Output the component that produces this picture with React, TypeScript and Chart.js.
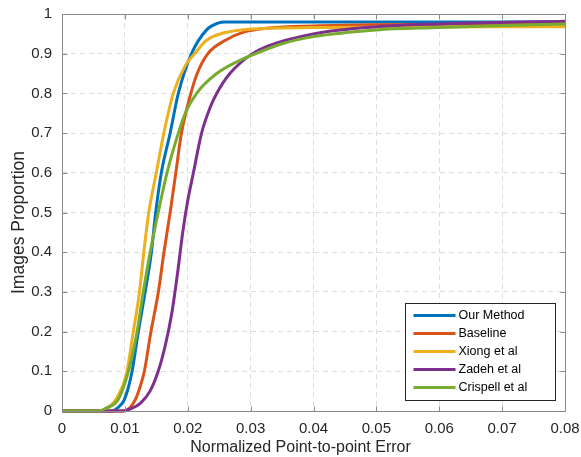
import React, { useEffect, useRef } from "react";
import { Chart, registerables } from "chart.js";

Chart.register(...registerables);

// ---- Tick labels ----
const xTickValues = [0, 0.01, 0.02, 0.03, 0.04, 0.05, 0.06, 0.07, 0.08];
const xTickLabels = ["0", "0.01", "0.02", "0.03", "0.04", "0.05", "0.06", "0.07", "0.08"];
const yTickValues = [0, 0.1, 0.2, 0.3, 0.4, 0.5, 0.6, 0.7, 0.8, 0.9, 1];
const yTickLabels = ["0", "0.1", "0.2", "0.3", "0.4", "0.5", "0.6", "0.7", "0.8", "0.9", "1"];
const xTitle = "Normalized Point-to-point Error";
const yTitle = "Images Proportion";

// ---- Series (x = normalized error, y = proportion) ----
const seriesNames = ["Our Method", "Baseline", "Xiong et al", "Zadeh et al", "Crispell et al"];
const seriesColors = ["#0072BD", "#D95319", "#EDB120", "#7E2F8E", "#77AC30"];

const ourMethodX = [0, 0.0078, 0.009, 0.0099, 0.0111, 0.0121, 0.0132, 0.0142, 0.0149, 0.0158, 0.0172, 0.0185, 0.0206, 0.023, 0.0248, 0.0259, 0.08];
const ourMethodY = [0, 0, 0.01, 0.028, 0.096, 0.196, 0.297, 0.398, 0.5, 0.6, 0.7, 0.8, 0.9, 0.96, 0.977, 0.98, 0.98];

const baselineX = [0, 0.0098, 0.0108, 0.0117, 0.0124, 0.0131, 0.0141, 0.0153, 0.0162, 0.0172, 0.0181, 0.019, 0.0205, 0.0215, 0.0232, 0.026, 0.029, 0.033, 0.04, 0.05, 0.08];
const baselineY = [0, 0, 0.008, 0.03, 0.06, 0.1, 0.196, 0.297, 0.398, 0.5, 0.6, 0.7, 0.8, 0.85, 0.9, 0.934, 0.955, 0.965, 0.97, 0.973, 0.975];

const xiongX = [0, 0.0062, 0.0075, 0.0088, 0.0103, 0.0113, 0.0123, 0.013, 0.0138, 0.015, 0.0162, 0.0177, 0.0196, 0.0211, 0.023, 0.0256, 0.03, 0.04, 0.05, 0.08];
const xiongY = [0, 0, 0.01, 0.035, 0.096, 0.196, 0.297, 0.398, 0.5, 0.6, 0.7, 0.8, 0.87, 0.9, 0.934, 0.952, 0.962, 0.966, 0.967, 0.968];

const zadehX = [0, 0.0095, 0.011, 0.0125, 0.014, 0.0153, 0.0165, 0.0175, 0.0184, 0.0192, 0.02, 0.0209, 0.0222, 0.0237, 0.0246, 0.0267, 0.03, 0.0325, 0.04, 0.05, 0.06, 0.08];
const zadehY = [0, 0, 0.006, 0.02, 0.05, 0.1, 0.17, 0.25, 0.35, 0.45, 0.53, 0.6, 0.7, 0.77, 0.8, 0.85, 0.897, 0.918, 0.95, 0.968, 0.975, 0.982];

const crispellX = [0, 0.0058, 0.0071, 0.0089, 0.0105, 0.0119, 0.0129, 0.014, 0.0153, 0.0167, 0.0185, 0.0196, 0.0214, 0.0246, 0.0288, 0.03, 0.035, 0.04, 0.05, 0.06, 0.07, 0.08];
const crispellY = [0, 0, 0.008, 0.028, 0.096, 0.196, 0.297, 0.398, 0.5, 0.6, 0.7, 0.75, 0.8, 0.85, 0.887, 0.895, 0.925, 0.943, 0.96, 0.966, 0.971, 0.975];

const seriesX = [ourMethodX, baselineX, xiongX, zadehX, crispellX];
const seriesY = [ourMethodY, baselineY, xiongY, zadehY, crispellY];

const FONT = "'Liberation Sans', Arial, Helvetica, sans-serif";
const AXIS_COLOR = "#8a8a8a";
const TEXT_COLOR = "#262626";

const boxPlugin = {
  id: "boxPlugin",
  afterDatasetsDraw(chart: any) {
    const { ctx, chartArea } = chart;
    const xs = chart.scales.x;
    const ys = chart.scales.y;
    const l = Math.round(chartArea.left) + 0.5;
    const r = Math.round(chartArea.right) + 0.5;
    const t = Math.round(chartArea.top) + 0.5;
    const b = Math.round(chartArea.bottom) + 0.5;
    ctx.save();
    ctx.strokeStyle = AXIS_COLOR;
    ctx.lineWidth = 1;
    ctx.setLineDash([]);
    ctx.beginPath();
    ctx.rect(l, t, r - l, b - t);
    const tl = 5;
    xTickValues.forEach((v) => {
      const px = Math.round(xs.getPixelForValue(v)) + 0.5;
      ctx.moveTo(px, b);
      ctx.lineTo(px, b - tl);
      ctx.moveTo(px, t);
      ctx.lineTo(px, t + tl);
    });
    yTickValues.forEach((v) => {
      const py = Math.round(ys.getPixelForValue(v)) + 0.5;
      ctx.moveTo(l, py);
      ctx.lineTo(l + tl, py);
      ctx.moveTo(r, py);
      ctx.lineTo(r - tl, py);
    });
    ctx.stroke();
    ctx.restore();
  },
};

const titlesPlugin = {
  id: "axisTitles",
  afterDraw(chart: any) {
    const { ctx, chartArea } = chart;
    ctx.save();
    ctx.fillStyle = TEXT_COLOR;
    ctx.textAlign = "center";
    ctx.textBaseline = "middle";
    ctx.font = `16px ${FONT}`;
    ctx.fillText(xTitle, (chartArea.left + chartArea.right) / 2 - 13, chartArea.bottom + 37);
    ctx.translate(19, (chartArea.top + chartArea.bottom) / 2 + 10);
    ctx.rotate(-Math.PI / 2);
    ctx.font = `17.5px ${FONT}`;
    ctx.fillText(yTitle, 0, 0);
    ctx.restore();
  },
};

const legendPlugin = {
  id: "insideLegend",
  afterDraw(chart: any) {
    const { ctx, chartArea } = chart;
    const w = 150;
    const h = 97;
    const x0 = Math.round(chartArea.right - 10 - w) + 0.5;
    const y0 = Math.round(chartArea.bottom - 11 - h) + 0.5;
    ctx.save();
    ctx.fillStyle = "#ffffff";
    ctx.fillRect(x0, y0, w, h);
    ctx.strokeStyle = "#262626";
    ctx.lineWidth = 1;
    ctx.strokeRect(x0, y0, w, h);
    ctx.font = `12.5px ${FONT}`;
    ctx.textBaseline = "middle";
    ctx.textAlign = "left";
    chart.data.datasets.forEach((ds: any, i: number) => {
      const y = y0 + 12 + i * 18;
      ctx.strokeStyle = ds.borderColor;
      ctx.lineWidth = 3;
      ctx.beginPath();
      ctx.moveTo(x0 + 8, y);
      ctx.lineTo(x0 + 50, y);
      ctx.stroke();
      ctx.fillStyle = "#000000";
      ctx.fillText(ds.label, x0 + 53, y + 0.5);
    });
    ctx.restore();
  },
};

export default function App() {
  const ref = useRef<HTMLCanvasElement | null>(null);

  useEffect(() => {
    if (!ref.current) return;
    const datasets = seriesNames.map((name, i) => ({
      label: name,
      data: seriesX[i].map((x, j) => ({ x, y: seriesY[i][j] })),
      borderColor: seriesColors[i],
      backgroundColor: seriesColors[i],
      borderWidth: 3,
      pointRadius: 0,
      fill: false,
      cubicInterpolationMode: "monotone" as const,
      order: seriesNames.length - i,
      clip: 4,
    }));

    const chart = new Chart(ref.current, {
      type: "line",
      data: { datasets },
      options: {
        responsive: false,
        animation: false,
        devicePixelRatio: 1,
        layout: { padding: { top: 14, right: 16, left: 0, bottom: 0 } },
        plugins: {
          legend: { display: false },
          tooltip: { enabled: false },
        },
        scales: {
          x: {
            type: "linear",
            min: 0,
            max: 0.08,
            afterBuildTicks: (scale: any) => {
              scale.ticks = xTickValues.map((v) => ({ value: v }));
            },
            afterFit: (scale: any) => {
              scale.height = 46;
              scale.paddingLeft = 0;
              scale.paddingRight = 0;
            },
            ticks: {
              autoSkip: false,
              maxRotation: 0,
              padding: 9,
              color: TEXT_COLOR,
              font: { family: FONT, size: 15 },
              callback: (_v: any, i: number) => xTickLabels[i],
            },
            grid: {
              color: "#dddddd",
              lineWidth: 1,
              drawTicks: false,
            },
            border: { display: false, dash: [5, 4] },
            title: { display: false },
          },
          y: {
            type: "linear",
            min: 0,
            max: 1,
            afterBuildTicks: (scale: any) => {
              scale.ticks = yTickValues.map((v) => ({ value: v }));
            },
            afterFit: (scale: any) => {
              scale.width = 62;
              scale.paddingTop = 0;
              scale.paddingBottom = 0;
            },
            ticks: {
              autoSkip: false,
              padding: 10,
              color: TEXT_COLOR,
              font: { family: FONT, size: 15 },
              callback: (_v: any, i: number) => yTickLabels[i],
            },
            grid: {
              color: "#dddddd",
              lineWidth: 1,
              drawTicks: false,
            },
            border: { display: false, dash: [5, 4] },
            title: { display: false },
          },
        },
      },
      plugins: [boxPlugin, legendPlugin, titlesPlugin],
    });

    return () => chart.destroy();
  }, []);

  return (
    <div style={{ position: "absolute", left: 0, top: 0, width: 581, height: 457, background: "#fff" }}>
      <canvas ref={ref} width={581} height={457} style={{ display: "block", width: 581, height: 457 }} />
    </div>
  );
}
